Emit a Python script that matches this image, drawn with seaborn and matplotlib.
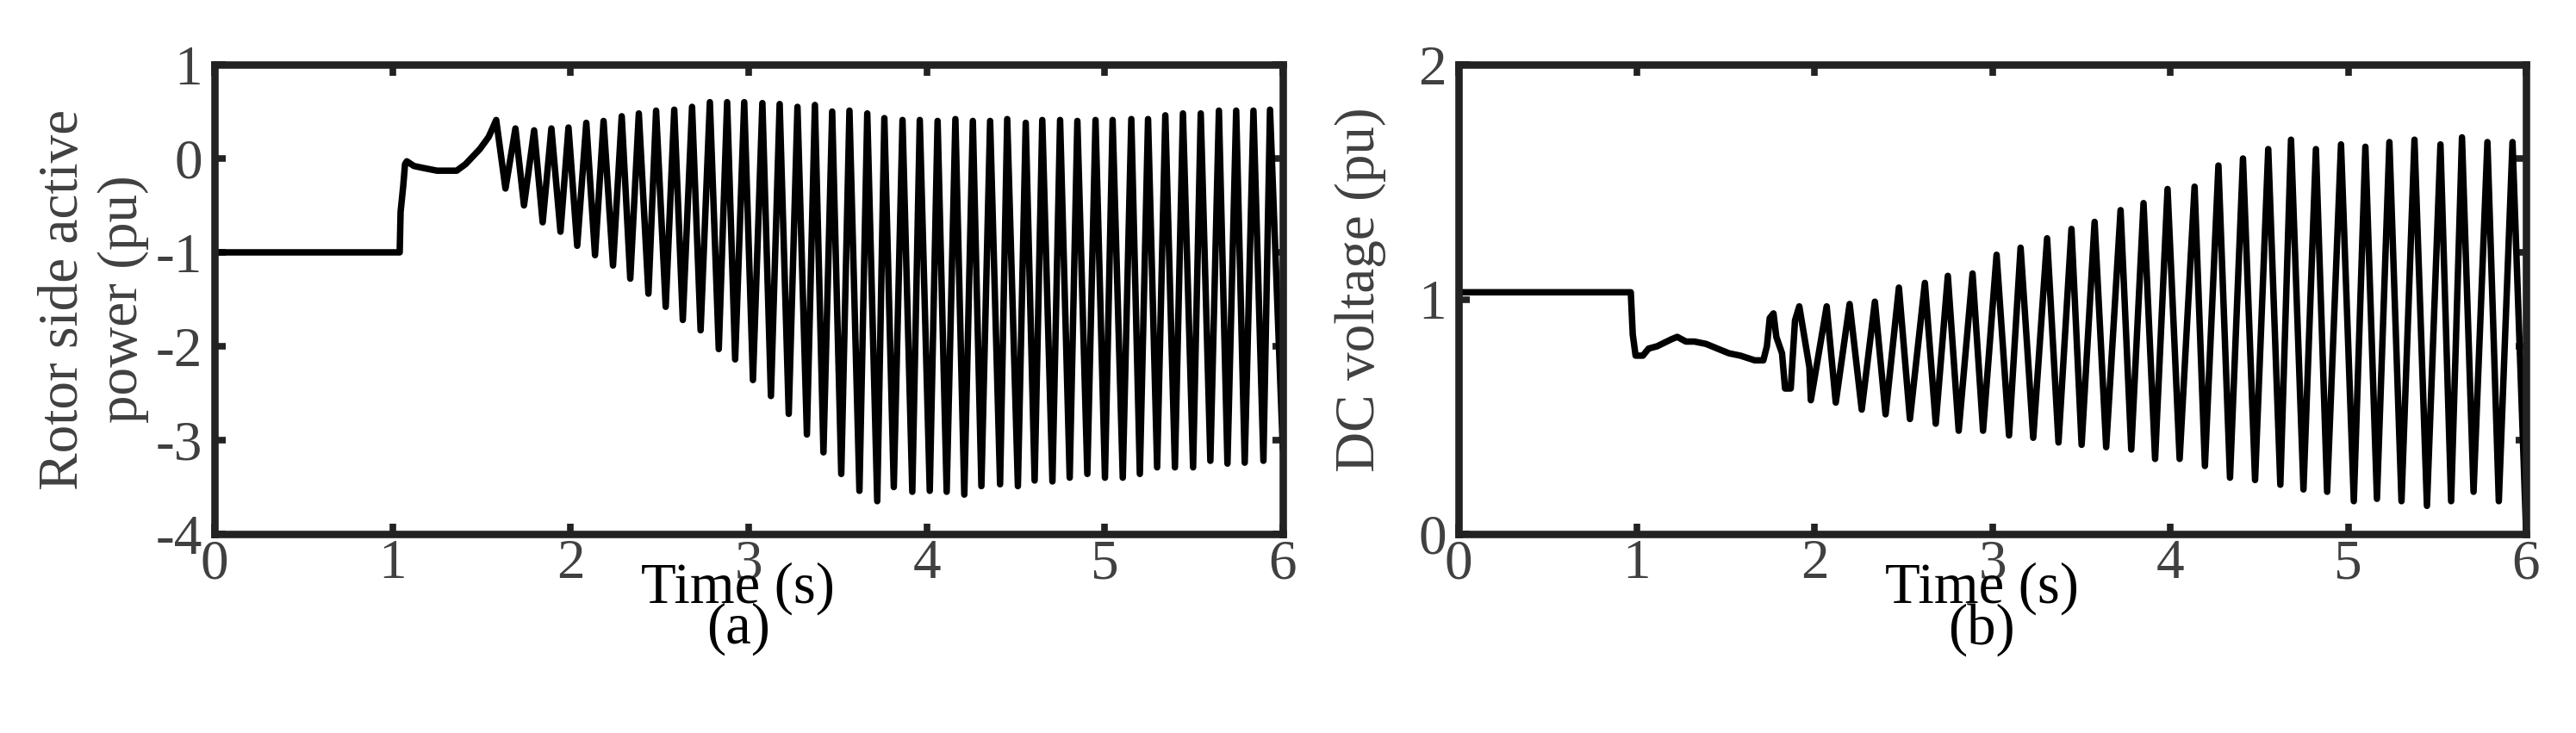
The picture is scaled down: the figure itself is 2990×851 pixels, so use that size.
import numpy as np
import pandas as pd
import matplotlib
matplotlib.use("Agg")
import matplotlib.pyplot as plt
import seaborn as sns

# rotor side active power (pu), panel (a): turning points
rsp_time = [0.0, 1.04, 1.045, 1.06, 1.07, 1.08, 1.12, 1.17, 1.25, 1.36, 1.41, 1.49, 1.54, 1.582,
            1.634, 1.690, 1.738, 1.795, 1.843, 1.892, 1.943, 1.988, 2.037, 2.088, 2.137, 2.185,
            2.238, 2.287, 2.335, 2.383, 2.437, 2.480, 2.534, 2.582, 2.630, 2.682, 2.730, 2.782,
            2.832, 2.879, 2.924, 2.975, 3.024,
            3.077, 3.125, 3.174, 3.225, 3.274, 3.327, 3.372, 3.420, 3.469, 3.520, 3.566, 3.622,
            3.666, 3.722, 3.762, 3.815, 3.864, 3.919, 3.961, 4.017, 4.061, 4.112, 4.161, 4.211,
            4.259, 4.307, 4.356, 4.412, 4.452, 4.512, 4.556, 4.606, 4.649, 4.706, 4.749, 4.803,
            4.846, 4.902, 4.948, 5.001, 5.044, 5.101,
            5.149, 5.197, 5.243, 5.294, 5.340, 5.394, 5.439, 5.496, 5.539, 5.593, 5.641, 5.689,
            5.738, 5.786, 5.835, 5.891, 5.928, 6.0]
rsp_value = [-1.0, -1.0, -0.57, -0.29, -0.06, -0.03, -0.08, -0.10, -0.13, -0.13, -0.06, 0.10, 0.23, 0.41,
             -0.32, 0.32, -0.50, 0.30, -0.68, 0.32, -0.78, 0.33, -0.93, 0.38, -1.03, 0.40,
             -1.14, 0.45, -1.28, 0.48, -1.44, 0.51, -1.58, 0.52, -1.72, 0.55, -1.83, 0.60,
             -2.03, 0.60, -2.14, 0.60, -2.36,
             0.59, -2.53, 0.58, -2.72, 0.55, -2.94, 0.57, -3.13, 0.50, -3.36, 0.51, -3.54,
             0.48, -3.65, 0.43, -3.50, 0.41, -3.55, 0.41, -3.54, 0.40, -3.55, 0.42, -3.58,
             0.40, -3.49, 0.40, -3.47, 0.42, -3.49, 0.38, -3.43, 0.41, -3.44, 0.41, -3.40,
             0.40, -3.36, 0.41, -3.40, 0.41, -3.40,
             0.42, -3.36, 0.42, -3.29, 0.46, -3.29, 0.48, -3.29, 0.48, -3.22, 0.51, -3.25,
             0.51, -3.24, 0.51, -3.22, 0.52, -3.10]

# DC voltage (pu), panel (b)
dc_time = [0.0, 0.968, 0.979, 0.995, 1.036, 1.068, 1.116, 1.197, 1.229, 1.278, 1.326, 1.391, 1.455,
           1.520, 1.584, 1.665, 1.713,
           1.733, 1.749, 1.770, 1.786, 1.818, 1.835, 1.867, 1.891, 1.915, 1.972, 1.980, 2.069,
           2.120, 2.198, 2.266, 2.340, 2.400, 2.475, 2.537, 2.621, 2.682, 2.750, 2.811, 2.889,
           2.948, 3.024,
           3.094, 3.159, 3.230, 3.308, 3.372, 3.445, 3.502, 3.575, 3.640, 3.721, 3.781, 3.850,
           3.915, 3.985, 4.053, 4.137, 4.195, 4.271, 4.336, 4.409, 4.477, 4.551, 4.619, 4.679,
           4.749, 4.819, 4.882, 4.960, 5.032, 5.097,
           5.162, 5.232, 5.300, 5.373, 5.443, 5.519, 5.579, 5.640, 5.705, 5.783, 5.847, 5.924, 6.0]
dc_value = [1.03, 1.03, 0.85, 0.76, 0.76, 0.79, 0.80, 0.83, 0.84, 0.82, 0.82, 0.81, 0.79,
            0.77, 0.76, 0.74, 0.74,
            0.80, 0.92, 0.94, 0.84, 0.77, 0.62, 0.62, 0.91, 0.97, 0.71, 0.57, 0.97,
            0.56, 0.98, 0.53, 0.99, 0.51, 1.05, 0.49, 1.07, 0.47, 1.10, 0.44, 1.11,
            0.44, 1.19,
            0.42, 1.22, 0.41, 1.26, 0.39, 1.30, 0.38, 1.33, 0.37, 1.38, 0.36, 1.41,
            0.32, 1.47, 0.32, 1.48, 0.29, 1.57, 0.24, 1.60, 0.23, 1.64, 0.21, 1.68,
            0.19, 1.64, 0.18, 1.66, 0.14, 1.65,
            0.15, 1.67, 0.14, 1.68, 0.12, 1.66, 0.14, 1.69, 0.18, 1.67, 0.14, 1.67, 0.02]

x_ticks = [0, 1, 2, 3, 4, 5, 6]
rsp_ticks = [-4, -3, -2, -1, 0, 1]
rsp_tick_labels = ["-4", "-3", "-2", "-1", "0", "1"]
dc_ticks = [0, 1, 2]
dc_minor_ticks = [0.4, 0.8, 1.2, 1.6]

rsp = pd.DataFrame({"t": rsp_time, "p": rsp_value})
dc = pd.DataFrame({"t": dc_time, "v": dc_value})

sns.set_style("white")
plt.rcParams["font.family"] = ["Liberation Serif", "DejaVu Serif"]

spine_col = "#222222"
tick_col = "#404040"
fs = 47

fig = plt.figure(figsize=(29.9, 8.51), dpi=100)
ax_h = 545 / 851
ax1 = fig.add_axes([249 / 2990, 1 - 620 / 851, 1240 / 2990, ax_h])
ax2 = fig.add_axes([1693 / 2990, 1 - 620 / 851, 1239 / 2990, ax_h])

sns.lineplot(data=rsp, x="t", y="p", ax=ax1, color="black", linewidth=5.4,
             estimator=None, sort=False)
sns.lineplot(data=dc, x="t", y="v", ax=ax2, color="black", linewidth=5.4,
             estimator=None, sort=False)

ax1.set_xlim(0, 6)
ax1.set_ylim(-4, 1)
ax1.set_yticks(rsp_ticks)
ax1.set_yticklabels(rsp_tick_labels)

ax2.set_xlim(0, 6)
ax2.set_ylim(0, 2)
ax2.set_yticks(dc_ticks)
ax2.set_yticks(dc_minor_ticks, minor=True)

for ax in (ax1, ax2):
    ax.set_xticks(x_ticks)
    for s in ax.spines.values():
        s.set_visible(True)
        s.set_linewidth(6.2)
        s.set_color(spine_col)
    ax.tick_params(which="both", direction="in", length=9, width=5.5, color=spine_col,
                   labelsize=fs, labelcolor=tick_col, top=True, bottom=True)
    ax.tick_params(axis="x", pad=4)
    ax.tick_params(axis="y", pad=10)
    ax.set_xlabel("Time (s)", fontsize=48, color="black")
    ax.xaxis.set_label_coords(0.49, -0.116)
    ax.xaxis.label.set_va("center")
    ax.grid(False)

ax1.tick_params(axis="y", left=True, right=True)
ax2.tick_params(axis="y", which="major", left=True, right=False)
ax2.tick_params(axis="y", which="minor", left=False, right=True)

ax1.set_ylabel("Rotor side active\npower (pu)", fontsize=fs, color=tick_col, linespacing=1.2)
ax1.yaxis.set_label_coords(-0.113, 0.5)
ax1.yaxis.label.set_va("center")
ax2.set_ylabel("DC voltage (pu)", fontsize=fs, color=tick_col)
ax2.yaxis.set_label_coords(-0.092, 0.52)
ax2.yaxis.label.set_va("center")

ax1.text(0.49, -0.203, "(a)", transform=ax1.transAxes, ha="center", va="center",
         fontsize=48, color="black")
ax2.text(0.49, -0.203, "(b)", transform=ax2.transAxes, ha="center", va="center",
         fontsize=48, color="black")

fig.savefig("out.png", dpi=100)
